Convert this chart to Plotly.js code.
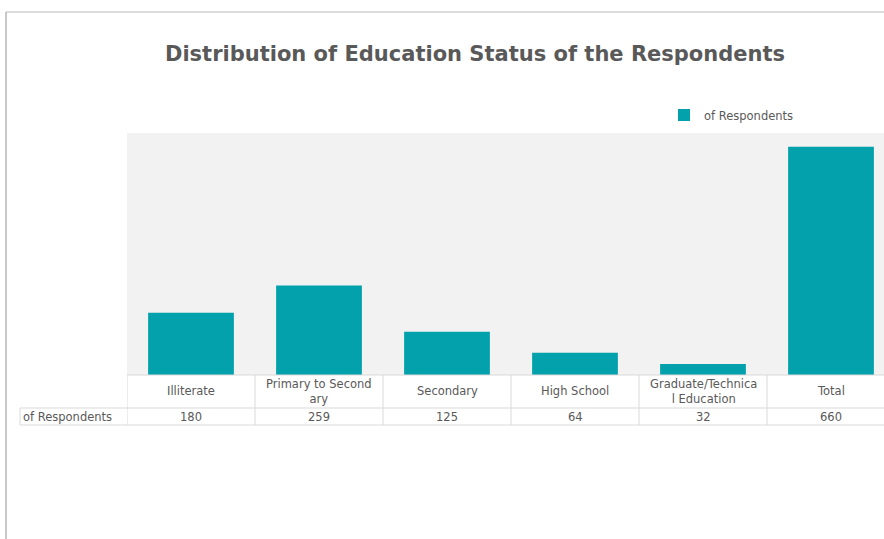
<!DOCTYPE html>
<html>
<head>
<meta charset="utf-8">
<script src="https://cdn.plot.ly/plotly-3.0.1.min.js"></script>
<style>html,body{margin:0;padding:0;background:#fff;}#chart{width:884px;height:539px;}</style>
</head>
<body>
<div id="chart"></div>
<script>
// ---- data ----
const categories = ["Illiterate", "Primary to Secondary", "Secondary", "High School", "Graduate/Technical Education", "Total"];
const headerLabels = ["Illiterate", "Primary to Second<br>ary", "Secondary", "High School", "Graduate/Technica<br>l Education", "Total"];
const respondents = [180, 259, 125, 64, 32, 660];
const seriesName = "of Respondents";
const chartTitle = "Distribution of Education Status of the Respondents";

// ---- layout helpers (pixel -> paper) ----
const W = 884, H = 539;
const px = v => v / W;
const py = v => 1 - v / H;
const textColor = "#595959";
const lineColor = "#d9d9d9";
const smallFont = {family: "DejaVu Sans", size: 11.5, color: textColor};
const xs = categories.map((c, i) => i);

const shapes = [];
const annotations = [];
// outer frame
shapes.push({type: "line", xref: "paper", yref: "paper", x0: px(6), x1: 1, y0: py(12), y1: py(12), line: {color: "#d0d0d0", width: 1.5}});
shapes.push({type: "line", xref: "paper", yref: "paper", x0: px(6), x1: px(6), y0: py(12), y1: 0, line: {color: "#c8c8c8", width: 2}});
// table lines
const yHeadTop = py(375), yRow = py(408), yBottom = py(425);
shapes.push({type: "line", xref: "x", yref: "paper", x0: -0.5, x1: 6, y0: yHeadTop, y1: yHeadTop, line: {color: lineColor, width: 1}});
shapes.push({type: "line", xref: "paper", yref: "paper", x0: px(20), x1: 1, y0: yRow, y1: yRow, line: {color: lineColor, width: 1}});
shapes.push({type: "line", xref: "paper", yref: "paper", x0: px(20), x1: 1, y0: yBottom, y1: yBottom, line: {color: lineColor, width: 1}});
shapes.push({type: "line", xref: "paper", yref: "paper", x0: px(20), x1: px(20), y0: yRow, y1: yBottom, line: {color: lineColor, width: 1}});
for (let i = 0; i <= categories.length; i++) {
  shapes.push({type: "line", xref: "x", yref: "paper", x0: i - 0.5, x1: i - 0.5, y0: yHeadTop, y1: yBottom, line: {color: lineColor, width: 1}});
}
// table texts
xs.forEach((x, i) => {
  annotations.push({x: x, xref: "x", y: py(391), yref: "paper", text: headerLabels[i], showarrow: false,
    font: smallFont, yanchor: "middle", xanchor: "center"});
  annotations.push({x: x, xref: "x", y: py(416.5), yref: "paper", text: String(respondents[i]), showarrow: false,
    font: smallFont, yanchor: "middle", xanchor: "center"});
});
annotations.push({x: px(21), xref: "paper", y: py(416.5), yref: "paper", text: seriesName, showarrow: false,
  font: smallFont, yanchor: "middle", xanchor: "left"});

const trace = {
  type: "bar",
  x: xs,
  y: respondents,
  name: seriesName,
  width: 0.67,
  marker: {color: "#03a1ac"},
  hoverinfo: "y"
};

const layout = {
  width: W, height: H,
  margin: {l: 0, r: 0, t: 0, b: 0},
  paper_bgcolor: "#ffffff",
  plot_bgcolor: "#f2f2f2",
  title: {text: chartTitle, x: 475 / W, xanchor: "center", y: py(54), yanchor: "middle",
    font: {family: "DejaVu Sans", size: 21, color: textColor, weight: "bold"}},
  xaxis: {domain: [px(127), 1], range: [-0.5, -0.5 + 757 / 128], showticklabels: false, showgrid: false,
    zeroline: false, showline: false, ticks: "", fixedrange: true},
  yaxis: {domain: [py(375), py(133)], range: [0, 700], showticklabels: false, showgrid: false,
    zeroline: false, showline: false, ticks: "", fixedrange: true},
  showlegend: true,
  legend: {x: px(664), xanchor: "left", y: py(115), yanchor: "middle", orientation: "h",
    font: smallFont, bgcolor: "rgba(0,0,0,0)", itemwidth: 30},
  shapes: shapes,
  annotations: annotations
};

Plotly.newPlot("chart", [trace], layout, {displayModeBar: false, staticPlot: true});
</script>
</body>
</html>
